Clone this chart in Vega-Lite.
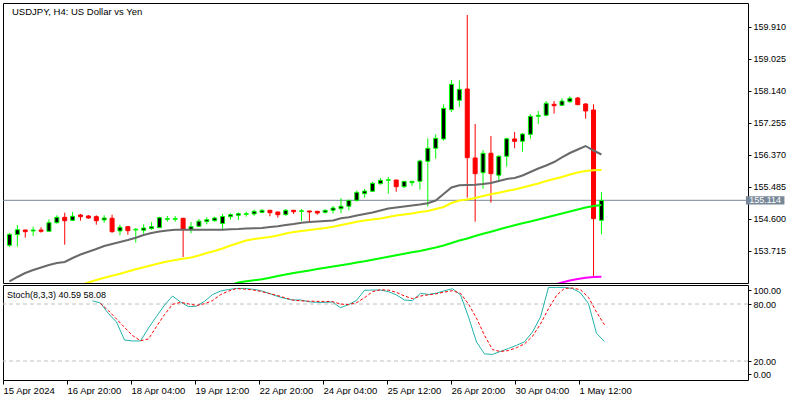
{
  "$schema": "https://vega.github.io/schema/vega-lite/v6.json",
  "padding": {"left": 2, "top": 2, "right": 0, "bottom": 0},
  "background": "white",
  "spacing": 2,
  "bounds": "flush",
  "config": {
    "view": {"stroke": "black", "strokeWidth": 1, "fill": "white"},
    "axis": {"labelFont": "Liberation Sans", "labelColor": "black", "tickColor": "black", "tickWidth": 1, "domain": false, "grid": false}
  },
  "datasets": {
    "candles": [
      {"k":0,"o":153.870,"h":154.210,"l":153.823,"c":154.174},
      {"k":1,"o":154.163,"h":154.431,"l":153.831,"c":154.301},
      {"k":2,"o":154.293,"h":154.300,"l":154.080,"c":154.246},
      {"k":3,"o":154.265,"h":154.384,"l":154.127,"c":154.293},
      {"k":4,"o":154.293,"h":154.368,"l":154.218,"c":154.257},
      {"k":5,"o":154.257,"h":154.589,"l":154.250,"c":154.495},
      {"k":6,"o":154.495,"h":154.700,"l":154.467,"c":154.644},
      {"k":7,"o":154.644,"h":154.772,"l":153.886,"c":154.550},
      {"k":8,"o":154.561,"h":154.791,"l":154.542,"c":154.672},
      {"k":9,"o":154.708,"h":154.736,"l":154.550,"c":154.661},
      {"k":10,"o":154.680,"h":154.708,"l":154.606,"c":154.625},
      {"k":11,"o":154.661,"h":154.700,"l":154.440,"c":154.550},
      {"k":12,"o":154.570,"h":154.700,"l":154.495,"c":154.625},
      {"k":13,"o":154.617,"h":154.716,"l":154.218,"c":154.246},
      {"k":14,"o":154.265,"h":154.440,"l":154.146,"c":154.368},
      {"k":15,"o":154.384,"h":154.404,"l":154.163,"c":154.274},
      {"k":16,"o":154.293,"h":154.348,"l":153.942,"c":154.312},
      {"k":17,"o":154.285,"h":154.451,"l":154.191,"c":154.348},
      {"k":18,"o":154.329,"h":154.514,"l":154.301,"c":154.384},
      {"k":19,"o":154.357,"h":154.661,"l":154.348,"c":154.633},
      {"k":20,"o":154.589,"h":154.680,"l":154.523,"c":154.606},
      {"k":21,"o":154.590,"h":154.680,"l":154.520,"c":154.610},
      {"k":22,"o":154.617,"h":154.625,"l":153.546,"c":154.312},
      {"k":23,"o":154.293,"h":154.514,"l":154.202,"c":154.384},
      {"k":24,"o":154.395,"h":154.597,"l":154.376,"c":154.537},
      {"k":25,"o":154.523,"h":154.644,"l":154.451,"c":154.578},
      {"k":26,"o":154.550,"h":154.661,"l":154.523,"c":154.625},
      {"k":27,"o":154.473,"h":154.736,"l":154.321,"c":154.667},
      {"k":28,"o":154.661,"h":154.755,"l":154.578,"c":154.716},
      {"k":29,"o":154.700,"h":154.783,"l":154.570,"c":154.744},
      {"k":30,"o":154.727,"h":154.799,"l":154.661,"c":154.744},
      {"k":31,"o":154.736,"h":154.855,"l":154.689,"c":154.810},
      {"k":32,"o":154.783,"h":154.860,"l":154.755,"c":154.838},
      {"k":33,"o":154.838,"h":154.840,"l":154.672,"c":154.772},
      {"k":34,"o":154.791,"h":154.795,"l":154.633,"c":154.716},
      {"k":35,"o":154.716,"h":154.874,"l":154.689,"c":154.838},
      {"k":36,"o":154.838,"h":154.846,"l":154.736,"c":154.799},
      {"k":37,"o":154.810,"h":154.874,"l":154.542,"c":154.824},
      {"k":38,"o":154.819,"h":154.822,"l":154.542,"c":154.791},
      {"k":39,"o":154.810,"h":154.812,"l":154.716,"c":154.763},
      {"k":40,"o":154.783,"h":154.866,"l":154.744,"c":154.838},
      {"k":41,"o":154.838,"h":154.957,"l":154.755,"c":154.902},
      {"k":42,"o":154.882,"h":155.178,"l":154.755,"c":154.949},
      {"k":43,"o":154.949,"h":155.118,"l":154.838,"c":155.115},
      {"k":44,"o":155.115,"h":155.380,"l":155.076,"c":155.336},
      {"k":45,"o":155.297,"h":155.427,"l":155.187,"c":155.372},
      {"k":46,"o":155.364,"h":155.621,"l":155.344,"c":155.585},
      {"k":47,"o":155.574,"h":155.732,"l":155.546,"c":155.668},
      {"k":48,"o":155.668,"h":155.759,"l":155.297,"c":155.685},
      {"k":49,"o":155.676,"h":155.680,"l":155.353,"c":155.491},
      {"k":50,"o":155.491,"h":155.642,"l":155.455,"c":155.640},
      {"k":51,"o":155.602,"h":155.642,"l":155.510,"c":155.640},
      {"k":52,"o":155.640,"h":156.238,"l":155.408,"c":156.202},
      {"k":53,"o":156.194,"h":156.830,"l":154.943,"c":156.554},
      {"k":54,"o":156.554,"h":156.941,"l":156.266,"c":156.830},
      {"k":55,"o":156.811,"h":157.771,"l":156.764,"c":157.660},
      {"k":56,"o":157.622,"h":158.443,"l":157.558,"c":158.325},
      {"k":57,"o":157.882,"h":158.435,"l":157.696,"c":158.186},
      {"k":58,"o":158.194,"h":160.242,"l":155.187,"c":156.294},
      {"k":59,"o":156.285,"h":157.226,"l":154.523,"c":155.851},
      {"k":60,"o":155.878,"h":156.507,"l":155.436,"c":156.415},
      {"k":61,"o":156.415,"h":156.894,"l":155.048,"c":155.851},
      {"k":62,"o":155.807,"h":156.368,"l":155.649,"c":156.332},
      {"k":63,"o":156.332,"h":156.847,"l":156.044,"c":156.819},
      {"k":64,"o":156.811,"h":157.005,"l":156.554,"c":156.747},
      {"k":65,"o":156.747,"h":156.977,"l":156.460,"c":156.949},
      {"k":66,"o":156.941,"h":157.494,"l":156.819,"c":157.439},
      {"k":67,"o":157.439,"h":157.586,"l":157.226,"c":157.467},
      {"k":68,"o":157.467,"h":157.862,"l":157.439,"c":157.799},
      {"k":69,"o":157.771,"h":157.862,"l":157.511,"c":157.732},
      {"k":70,"o":157.743,"h":157.937,"l":157.724,"c":157.862},
      {"k":71,"o":157.843,"h":157.992,"l":157.815,"c":157.937},
      {"k":72,"o":157.945,"h":157.973,"l":157.760,"c":157.760},
      {"k":73,"o":157.779,"h":157.807,"l":157.373,"c":157.586},
      {"k":74,"o":157.613,"h":157.771,"l":153.020,"c":154.606},
      {"k":75,"o":154.561,"h":155.344,"l":154.174,"c":155.114}
    ],
    "ma": [
      {"k":0,"ma":"MA1","v":152.868},{"k":1,"ma":"MA1","v":152.992},{"k":2,"ma":"MA1","v":153.103},{"k":3,"ma":"MA1","v":153.186},
      {"k":4,"ma":"MA1","v":153.255},{"k":5,"ma":"MA1","v":153.324},{"k":6,"ma":"MA1","v":153.379},{"k":7,"ma":"MA1","v":153.407},
      {"k":8,"ma":"MA1","v":153.518},{"k":9,"ma":"MA1","v":153.615},{"k":10,"ma":"MA1","v":153.692},{"k":11,"ma":"MA1","v":153.767},
      {"k":12,"ma":"MA1","v":153.850},{"k":13,"ma":"MA1","v":153.905},{"k":14,"ma":"MA1","v":153.961},{"k":15,"ma":"MA1","v":154.016},
      {"k":16,"ma":"MA1","v":154.079},{"k":17,"ma":"MA1","v":154.154},{"k":18,"ma":"MA1","v":154.210},{"k":19,"ma":"MA1","v":154.251},
      {"k":20,"ma":"MA1","v":154.279},{"k":21,"ma":"MA1","v":154.298},{"k":22,"ma":"MA1","v":154.301},{"k":23,"ma":"MA1","v":154.301},
      {"k":24,"ma":"MA1","v":154.301},{"k":25,"ma":"MA1","v":154.301},{"k":26,"ma":"MA1","v":154.301},{"k":27,"ma":"MA1","v":154.301},
      {"k":28,"ma":"MA1","v":154.312},{"k":29,"ma":"MA1","v":154.320},{"k":30,"ma":"MA1","v":154.334},{"k":31,"ma":"MA1","v":154.342},
      {"k":32,"ma":"MA1","v":154.348},{"k":33,"ma":"MA1","v":154.376},{"k":34,"ma":"MA1","v":154.395},{"k":35,"ma":"MA1","v":154.431},
      {"k":36,"ma":"MA1","v":154.459},{"k":37,"ma":"MA1","v":154.495},{"k":38,"ma":"MA1","v":154.514},{"k":39,"ma":"MA1","v":154.528},
      {"k":40,"ma":"MA1","v":154.542},{"k":41,"ma":"MA1","v":154.555},{"k":42,"ma":"MA1","v":154.616},{"k":43,"ma":"MA1","v":154.644},
      {"k":44,"ma":"MA1","v":154.694},{"k":45,"ma":"MA1","v":154.735},{"k":46,"ma":"MA1","v":154.777},{"k":47,"ma":"MA1","v":154.832},
      {"k":48,"ma":"MA1","v":154.887},{"k":49,"ma":"MA1","v":154.915},{"k":50,"ma":"MA1","v":154.943},{"k":51,"ma":"MA1","v":154.970},
      {"k":52,"ma":"MA1","v":154.998},{"k":53,"ma":"MA1","v":155.031},{"k":54,"ma":"MA1","v":155.109},{"k":55,"ma":"MA1","v":155.289},
      {"k":56,"ma":"MA1","v":155.469},{"k":57,"ma":"MA1","v":155.529},{"k":58,"ma":"MA1","v":155.538},{"k":59,"ma":"MA1","v":155.546},
      {"k":60,"ma":"MA1","v":155.565},{"k":61,"ma":"MA1","v":155.593},{"k":62,"ma":"MA1","v":155.648},{"k":63,"ma":"MA1","v":155.704},
      {"k":64,"ma":"MA1","v":155.731},{"k":65,"ma":"MA1","v":155.801},{"k":66,"ma":"MA1","v":155.897},{"k":67,"ma":"MA1","v":155.994},
      {"k":68,"ma":"MA1","v":156.077},{"k":69,"ma":"MA1","v":156.174},{"k":70,"ma":"MA1","v":156.299},{"k":71,"ma":"MA1","v":156.423},
      {"k":72,"ma":"MA1","v":156.520},{"k":73,"ma":"MA1","v":156.617},{"k":74,"ma":"MA1","v":156.492},{"k":75,"ma":"MA1","v":156.382},
      {"k":9,"ma":"MA2","v":152.771},{"k":10,"ma":"MA2","v":152.840},{"k":11,"ma":"MA2","v":152.909},{"k":12,"ma":"MA2","v":152.973},
      {"k":13,"ma":"MA2","v":153.028},{"k":14,"ma":"MA2","v":153.083},{"k":15,"ma":"MA2","v":153.144},{"k":16,"ma":"MA2","v":153.205},
      {"k":17,"ma":"MA2","v":153.260},{"k":18,"ma":"MA2","v":153.316},{"k":19,"ma":"MA2","v":153.371},{"k":20,"ma":"MA2","v":153.421},
      {"k":21,"ma":"MA2","v":153.462},{"k":22,"ma":"MA2","v":153.496},{"k":23,"ma":"MA2","v":153.532},{"k":24,"ma":"MA2","v":153.587},
      {"k":25,"ma":"MA2","v":153.656},{"k":26,"ma":"MA2","v":153.711},{"k":27,"ma":"MA2","v":153.781},{"k":28,"ma":"MA2","v":153.864},
      {"k":29,"ma":"MA2","v":153.933},{"k":30,"ma":"MA2","v":154.002},{"k":31,"ma":"MA2","v":154.044},{"k":32,"ma":"MA2","v":154.071},
      {"k":33,"ma":"MA2","v":154.099},{"k":34,"ma":"MA2","v":154.140},{"k":35,"ma":"MA2","v":154.196},{"k":36,"ma":"MA2","v":154.237},
      {"k":37,"ma":"MA2","v":154.265},{"k":38,"ma":"MA2","v":154.293},{"k":39,"ma":"MA2","v":154.320},{"k":40,"ma":"MA2","v":154.348},
      {"k":41,"ma":"MA2","v":154.384},{"k":42,"ma":"MA2","v":154.431},{"k":43,"ma":"MA2","v":154.472},{"k":44,"ma":"MA2","v":154.522},
      {"k":45,"ma":"MA2","v":154.555},{"k":46,"ma":"MA2","v":154.583},{"k":47,"ma":"MA2","v":154.611},{"k":48,"ma":"MA2","v":154.652},
      {"k":49,"ma":"MA2","v":154.694},{"k":50,"ma":"MA2","v":154.721},{"k":51,"ma":"MA2","v":154.749},{"k":52,"ma":"MA2","v":154.791},
      {"k":53,"ma":"MA2","v":154.818},{"k":54,"ma":"MA2","v":154.874},{"k":55,"ma":"MA2","v":154.929},{"k":56,"ma":"MA2","v":155.040},
      {"k":57,"ma":"MA2","v":155.109},{"k":58,"ma":"MA2","v":155.137},{"k":59,"ma":"MA2","v":155.178},{"k":60,"ma":"MA2","v":155.233},
      {"k":61,"ma":"MA2","v":155.280},{"k":62,"ma":"MA2","v":155.325},{"k":63,"ma":"MA2","v":155.372},{"k":64,"ma":"MA2","v":155.413},
      {"k":65,"ma":"MA2","v":155.469},{"k":66,"ma":"MA2","v":155.524},{"k":67,"ma":"MA2","v":155.579},{"k":68,"ma":"MA2","v":155.648},
      {"k":69,"ma":"MA2","v":155.704},{"k":70,"ma":"MA2","v":155.759},{"k":71,"ma":"MA2","v":155.828},{"k":72,"ma":"MA2","v":155.884},
      {"k":73,"ma":"MA2","v":155.925},{"k":74,"ma":"MA2","v":155.945},{"k":75,"ma":"MA2","v":155.953},
      {"k":28,"ma":"MA3","v":152.771},{"k":29,"ma":"MA3","v":152.840},{"k":30,"ma":"MA3","v":152.873},{"k":31,"ma":"MA3","v":152.904},
      {"k":32,"ma":"MA3","v":152.929},{"k":33,"ma":"MA3","v":152.970},{"k":34,"ma":"MA3","v":153.020},{"k":35,"ma":"MA3","v":153.061},
      {"k":36,"ma":"MA3","v":153.103},{"k":37,"ma":"MA3","v":153.136},{"k":38,"ma":"MA3","v":153.172},{"k":39,"ma":"MA3","v":153.213},
      {"k":40,"ma":"MA3","v":153.249},{"k":41,"ma":"MA3","v":153.283},{"k":42,"ma":"MA3","v":153.316},{"k":43,"ma":"MA3","v":153.352},
      {"k":44,"ma":"MA3","v":153.393},{"k":45,"ma":"MA3","v":153.426},{"k":46,"ma":"MA3","v":153.468},{"k":47,"ma":"MA3","v":153.509},
      {"k":48,"ma":"MA3","v":153.551},{"k":49,"ma":"MA3","v":153.592},{"k":50,"ma":"MA3","v":153.634},{"k":51,"ma":"MA3","v":153.675},
      {"k":52,"ma":"MA3","v":153.711},{"k":53,"ma":"MA3","v":153.758},{"k":54,"ma":"MA3","v":153.808},{"k":55,"ma":"MA3","v":153.864},
      {"k":56,"ma":"MA3","v":153.933},{"k":57,"ma":"MA3","v":154.002},{"k":58,"ma":"MA3","v":154.057},{"k":59,"ma":"MA3","v":154.127},
      {"k":60,"ma":"MA3","v":154.190},{"k":61,"ma":"MA3","v":154.246},{"k":62,"ma":"MA3","v":154.306},{"k":63,"ma":"MA3","v":154.367},
      {"k":64,"ma":"MA3","v":154.423},{"k":65,"ma":"MA3","v":154.478},{"k":66,"ma":"MA3","v":154.528},{"k":67,"ma":"MA3","v":154.583},
      {"k":68,"ma":"MA3","v":154.638},{"k":69,"ma":"MA3","v":154.694},{"k":70,"ma":"MA3","v":154.749},{"k":71,"ma":"MA3","v":154.805},
      {"k":72,"ma":"MA3","v":154.860},{"k":73,"ma":"MA3","v":154.915},{"k":74,"ma":"MA3","v":154.957},{"k":75,"ma":"MA3","v":154.984},
      {"k":69,"ma":"MA4","v":152.771},{"k":70,"ma":"MA4","v":152.840},{"k":71,"ma":"MA4","v":152.895},{"k":72,"ma":"MA4","v":152.937},
      {"k":73,"ma":"MA4","v":152.973},{"k":74,"ma":"MA4","v":152.992},{"k":75,"ma":"MA4","v":153.000}
    ],
    "stoch": [
      {"k":11,"K":83.4,"D":null},{"k":12,"K":81,"D":80.6},{"k":13,"K":69.8,"D":73},{"k":14,"K":61,"D":64.2},
      {"k":15,"K":42.1,"D":55.4},{"k":16,"K":41.1,"D":46.8},{"k":17,"K":41.1,"D":41.4},{"k":18,"K":54.7,"D":43.2},
      {"k":19,"K":67,"D":56.3},{"k":20,"K":78.8,"D":68.9},{"k":21,"K":88.4,"D":79.6},{"k":22,"K":82.1,"D":81.7},
      {"k":23,"K":77.2,"D":80.1},{"k":24,"K":77.7,"D":78.5},{"k":25,"K":82.8,"D":80.3},{"k":26,"K":89.9,"D":83.5},
      {"k":27,"K":93.6,"D":89.8},{"k":28,"K":95.3,"D":93.6},{"k":29,"K":96.4,"D":96.3},{"k":30,"K":96.4,"D":95.6},
      {"k":31,"K":95.6,"D":94.9},{"k":32,"K":94.2,"D":93.3},{"k":33,"K":91.4,"D":91.2},{"k":34,"K":88.4,"D":89.2},
      {"k":35,"K":86,"D":86.7},{"k":36,"K":84.2,"D":84.2},{"k":37,"K":84.2,"D":83.3},{"k":38,"K":82.4,"D":83},
      {"k":39,"K":81.7,"D":82.8},{"k":40,"K":81.7,"D":82.7},{"k":41,"K":82.1,"D":82.5},{"k":42,"K":76.1,"D":80},
      {"k":43,"K":79.3,"D":79.3},{"k":44,"K":83.8,"D":81.4},{"k":45,"K":94.4,"D":86.6},{"k":46,"K":94.7,"D":93},
      {"k":47,"K":94.7,"D":95},{"k":48,"K":93,"D":94.6},{"k":49,"K":89.5,"D":92.2},{"k":50,"K":84.2,"D":88.4},
      {"k":51,"K":83.5,"D":85.6},{"k":52,"K":91.2,"D":88.4},{"k":53,"K":90.1,"D":89.7},{"k":54,"K":91.4,"D":90.8},
      {"k":55,"K":94,"D":92.6},{"k":56,"K":96.1,"D":94},{"k":57,"K":89.6,"D":91.2},{"k":58,"K":66.4,"D":80},
      {"k":59,"K":40,"D":65},{"k":60,"K":27.5,"D":47},{"k":61,"K":26.9,"D":32},{"k":62,"K":30.2,"D":30},
      {"k":63,"K":33.2,"D":31},{"k":64,"K":36.5,"D":34},{"k":65,"K":40.2,"D":38},{"k":66,"K":50.5,"D":46},
      {"k":67,"K":66.3,"D":59},{"k":68,"K":97.5,"D":75},{"k":69,"K":97.5,"D":89},{"k":70,"K":97.5,"D":96.5},
      {"k":71,"K":96.3,"D":96.8},{"k":72,"K":91.7,"D":95},{"k":73,"K":80.3,"D":87},{"k":74,"K":49.1,"D":71.5},
      {"k":75,"K":40.59,"D":58.08}
    ]
  },
  "vconcat": [
    {
      "width": 745,
      "height": 280,
      "layer": [
        {
          "data": {"values": [{}]},
          "mark": {"type": "rule", "color": "#778899", "strokeWidth": 1},
          "encoding": {
            "y": {"datum": 155.114, "type": "quantitative", "scale": {"domain": [152.826, 160.574], "nice": false, "zero": false},
                  "axis": {"orient": "right", "title": null, "values": [153.715, 154.6, 155.485, 156.37, 157.255, 158.14, 159.025, 159.91], "format": ".3f", "tickSize": 3, "labelPadding": 2, "labelFontSize": 9}}
          }
        },
        {
          "data": {"name": "candles"},
          "mark": {"type": "rule", "strokeWidth": 1, "clip": true},
          "encoding": {
            "x": {"field": "k", "type": "quantitative", "scale": {"domain": [-0.1875, 92.9375], "nice": false, "zero": false}, "axis": null},
            "y": {"field": "l", "type": "quantitative", "scale": {"domain": [152.826, 160.574], "nice": false, "zero": false},
                  "axis": {"orient": "right", "title": null, "values": [153.715, 154.6, 155.485, 156.37, 157.255, 158.14, 159.025, 159.91], "format": ".3f", "tickSize": 3, "labelPadding": 2, "labelFontSize": 9}},
            "y2": {"field": "h"},
            "color": {"condition": {"test": "datum.c >= datum.o", "value": "#00FF00"}, "value": "#FF0000"}
          }
        },
        {
          "data": {"name": "candles"},
          "mark": {"type": "bar", "width": 4, "strokeWidth": 1, "clip": true},
          "encoding": {
            "x": {"field": "k", "type": "quantitative", "scale": {"domain": [-0.1875, 92.9375], "nice": false, "zero": false}, "axis": null},
            "y": {"field": "o", "type": "quantitative", "scale": {"domain": [152.826, 160.574], "nice": false, "zero": false},
                  "axis": {"orient": "right", "title": null, "values": [153.715, 154.6, 155.485, 156.37, 157.255, 158.14, 159.025, 159.91], "format": ".3f", "tickSize": 3, "labelPadding": 2, "labelFontSize": 9}},
            "y2": {"field": "c"},
            "fill": {"condition": {"test": "datum.c >= datum.o", "value": "#000000"}, "value": "#FF0000"},
            "stroke": {"condition": {"test": "datum.c >= datum.o", "value": "#00FF00"}, "value": "#FF0000"}
          }
        },
        {
          "data": {"name": "ma"},
          "mark": {"type": "line", "strokeWidth": 2, "clip": true},
          "encoding": {
            "x": {"field": "k", "type": "quantitative", "scale": {"domain": [-0.1875, 92.9375], "nice": false, "zero": false}, "axis": null},
            "y": {"field": "v", "type": "quantitative", "scale": {"domain": [152.826, 160.574], "nice": false, "zero": false},
                  "axis": {"orient": "right", "title": null, "values": [153.715, 154.6, 155.485, 156.37, 157.255, 158.14, 159.025, 159.91], "format": ".3f", "tickSize": 3, "labelPadding": 2, "labelFontSize": 9}},
            "color": {"field": "ma", "type": "nominal", "scale": {"domain": ["MA1", "MA2", "MA3", "MA4"], "range": ["#696969", "#FFFF00", "#00FF00", "#FF00FF"]}, "legend": null}
          }
        },
        {
          "data": {"values": [{}]},
          "mark": {"type": "text", "font": "Liberation Sans", "fontSize": 9.5, "align": "left", "baseline": "alphabetic", "dx": 4, "dy": 11.5, "color": "black"},
          "encoding": {
            "x": {"datum": -0.1875, "type": "quantitative", "axis": null},
            "y": {"datum": 160.574, "type": "quantitative",
                  "axis": {"orient": "right", "title": null, "values": [153.715, 154.6, 155.485, 156.37, 157.255, 158.14, 159.025, 159.91], "format": ".3f", "tickSize": 3, "labelPadding": 2, "labelFontSize": 9}},
            "text": {"value": "USDJPY, H4:  US Dollar vs Yen"}
          }
        },
        {
          "data": {"values": [{}]},
          "mark": {"type": "rect", "color": "#778899", "clip": false},
          "encoding": {
            "x": {"datum": 93.31, "type": "quantitative", "axis": null},
            "x2": {"datum": 98.19},
            "y": {"datum": 155.228, "type": "quantitative",
                  "axis": {"orient": "right", "title": null, "values": [153.715, 154.6, 155.485, 156.37, 157.255, 158.14, 159.025, 159.91], "format": ".3f", "tickSize": 3, "labelPadding": 2, "labelFontSize": 9}},
            "y2": {"datum": 154.998}
          }
        },
        {
          "data": {"values": [{}]},
          "mark": {"type": "text", "font": "Liberation Sans", "fontSize": 9, "align": "center", "baseline": "middle", "color": "white", "clip": false},
          "encoding": {
            "x": {"datum": 95.75, "type": "quantitative", "axis": null},
            "y": {"datum": 155.114, "type": "quantitative",
                  "axis": {"orient": "right", "title": null, "values": [153.715, 154.6, 155.485, 156.37, 157.255, 158.14, 159.025, 159.91], "format": ".3f", "tickSize": 3, "labelPadding": 2, "labelFontSize": 9}},
            "text": {"value": "155.114"}
          }
        }
      ]
    },
    {
      "width": 745,
      "height": 95,
      "layer": [
        {
          "data": {"values": [{"lvl": 20}, {"lvl": 80}]},
          "mark": {"type": "rule", "color": "#C0C0C0", "strokeDash": [4, 3], "strokeWidth": 1},
          "encoding": {
            "y": {"field": "lvl", "type": "quantitative", "scale": {"domain": [0, 100], "nice": false, "zero": false},
                  "axis": {"orient": "right", "title": null, "values": [6.3, 20, 80, 94.7], "labelExpr": "datum.value > 90 ? '100.00' : datum.value < 10 ? '0.00' : format(datum.value, '.2f')", "tickSize": 3, "labelPadding": 2, "labelFontSize": 9}}
          }
        },
        {
          "data": {"name": "stoch"},
          "mark": {"type": "line", "color": "#20B2AA", "strokeWidth": 1, "clip": true},
          "encoding": {
            "x": {"field": "k", "type": "quantitative", "scale": {"domain": [-0.1875, 92.9375], "nice": false, "zero": false},
                  "axis": {"title": null, "values": [-0.1875, 7.8125, 15.8125, 23.8125, 31.8125, 39.8125, 47.8125, 55.8125, 63.8125, 71.8125], "labelExpr": "['15 Apr 2024','16 Apr 20:00','18 Apr 04:00','19 Apr 12:00','22 Apr 20:00','24 Apr 04:00','25 Apr 12:00','26 Apr 20:00','30 Apr 04:00','1 May 12:00'][round((datum.value + 0.1875) / 8)]", "labelAlign": "left", "labelBaseline": "top", "tickSize": 4, "labelPadding": 1, "labelFontSize": 9.5, "labelOverlap": false, "labelBound": false, "labelFlush": false}},
            "y": {"field": "K", "type": "quantitative", "scale": {"domain": [0, 100], "nice": false, "zero": false},
                  "axis": {"orient": "right", "title": null, "values": [6.3, 20, 80, 94.7], "labelExpr": "datum.value > 90 ? '100.00' : datum.value < 10 ? '0.00' : format(datum.value, '.2f')", "tickSize": 3, "labelPadding": 2, "labelFontSize": 9}}
          }
        },
        {
          "data": {"name": "stoch"},
          "mark": {"type": "line", "color": "#FF0000", "strokeWidth": 1, "strokeDash": [3, 2], "clip": true},
          "encoding": {
            "x": {"field": "k", "type": "quantitative", "scale": {"domain": [-0.1875, 92.9375], "nice": false, "zero": false},
                  "axis": {"title": null, "values": [-0.1875, 7.8125, 15.8125, 23.8125, 31.8125, 39.8125, 47.8125, 55.8125, 63.8125, 71.8125], "labelExpr": "['15 Apr 2024','16 Apr 20:00','18 Apr 04:00','19 Apr 12:00','22 Apr 20:00','24 Apr 04:00','25 Apr 12:00','26 Apr 20:00','30 Apr 04:00','1 May 12:00'][round((datum.value + 0.1875) / 8)]", "labelAlign": "left", "labelBaseline": "top", "tickSize": 4, "labelPadding": 1, "labelFontSize": 9.5, "labelOverlap": false, "labelBound": false, "labelFlush": false}},
            "y": {"field": "D", "type": "quantitative", "scale": {"domain": [0, 100], "nice": false, "zero": false},
                  "axis": {"orient": "right", "title": null, "values": [6.3, 20, 80, 94.7], "labelExpr": "datum.value > 90 ? '100.00' : datum.value < 10 ? '0.00' : format(datum.value, '.2f')", "tickSize": 3, "labelPadding": 2, "labelFontSize": 9}}
          }
        },
        {
          "data": {"values": [{}]},
          "mark": {"type": "text", "font": "Liberation Sans", "fontSize": 9, "align": "left", "baseline": "alphabetic", "dx": 4, "dy": 13, "color": "black"},
          "encoding": {
            "x": {"datum": -0.1875, "type": "quantitative",
                  "axis": {"title": null, "values": [-0.1875, 7.8125, 15.8125, 23.8125, 31.8125, 39.8125, 47.8125, 55.8125, 63.8125, 71.8125], "labelExpr": "['15 Apr 2024','16 Apr 20:00','18 Apr 04:00','19 Apr 12:00','22 Apr 20:00','24 Apr 04:00','25 Apr 12:00','26 Apr 20:00','30 Apr 04:00','1 May 12:00'][round((datum.value + 0.1875) / 8)]", "labelAlign": "left", "labelBaseline": "top", "tickSize": 4, "labelPadding": 1, "labelFontSize": 9.5, "labelOverlap": false, "labelBound": false, "labelFlush": false}},
            "y": {"datum": 100, "type": "quantitative",
                  "axis": {"orient": "right", "title": null, "values": [6.3, 20, 80, 94.7], "labelExpr": "datum.value > 90 ? '100.00' : datum.value < 10 ? '0.00' : format(datum.value, '.2f')", "tickSize": 3, "labelPadding": 2, "labelFontSize": 9}},
            "text": {"value": "Stoch(8,3,3) 40.59 58.08"}
          }
        }
      ]
    }
  ]
}
